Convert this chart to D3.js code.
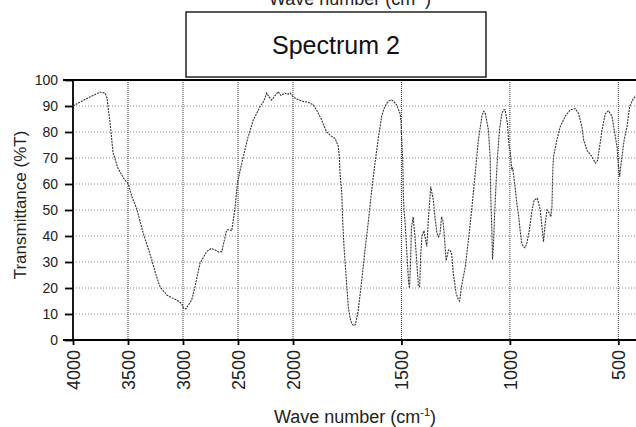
<!DOCTYPE html>
<html>
<head>
<meta charset="utf-8">
<script src="https://cdn.jsdelivr.net/npm/d3@7"></script>
<style>
  html, body { margin: 0; padding: 0; background: #fff; }
  svg { display: block; font-family: "Liberation Sans", Arial, sans-serif; }
  .grid-h { stroke: #8a8a8a; stroke-width: 1; stroke-dasharray: 1,2; }
  .grid-v { stroke: #333; stroke-width: 1; stroke-dasharray: 1,1; }
  .frame { stroke: #000; stroke-width: 1.8; }
  .tick-label { fill: #222; }
  .spectrum { fill: none; stroke: #333; stroke-width: 1.1; stroke-dasharray: 2,1; }
</style>
</head>
<body>
<div id="chart"></div>
<script>
// IR spectrum: wave number (cm-1) and transmittance (%T)
const wavenumber = [
  4000, 3936, 3845, 3755, 3709, 3690, 3677, 3664, 3636, 3591, 3536, 3497, 3464, 3421,
  3361, 3285, 3245, 3209, 3148, 3100, 3057, 3012, 2997, 2973, 2921, 2891, 2845, 2785,
  2745, 2709, 2673, 2648, 2627, 2603, 2582, 2557, 2543, 2527, 2506, 2482, 2452, 2409,
  2361, 2300, 2264, 2239, 2218, 2194, 2164, 2134, 2109, 2073, 2045, 2027, 2000,
  1986, 1952, 1931, 1906, 1885, 1868, 1845, 1825, 1806, 1791, 1786, 1783, 1775, 1771,
  1765, 1755, 1745, 1737, 1729, 1721, 1714, 1707, 1699, 1683, 1668, 1652, 1637, 1622,
  1606, 1591, 1580, 1568, 1557, 1545, 1534, 1522, 1506, 1502, 1499, 1494, 1491, 1488,
  1483, 1473, 1467, 1463, 1458, 1454, 1446, 1438, 1429, 1422, 1416, 1411, 1405, 1396,
  1383, 1376, 1365, 1358, 1353, 1345, 1337, 1330, 1322, 1315, 1309, 1304, 1294, 1283,
  1276, 1268, 1261, 1248, 1237, 1232, 1222, 1206, 1191, 1175, 1160, 1145, 1129, 1121,
  1114, 1099, 1091, 1088, 1083, 1080, 1075, 1070, 1063, 1057, 1048, 1037, 1029, 1022,
  1011, 1006, 1002, 999, 991, 987, 976, 968, 961, 953, 945, 938, 930, 922, 910, 898,
  888, 873, 860, 852, 845, 837, 829, 817, 811, 806, 802, 799, 783, 768, 745, 722, 699,
  683, 668, 660, 645, 621, 606, 596, 586, 575, 560, 545, 529, 519, 506, 499, 494, 490,
  483, 473, 460, 448, 430, 417, 400
];
const transmittance = [
  90, 91.5, 93.5, 95.3, 95, 93, 88, 84, 72, 66, 62, 60, 55, 50.5,
  41, 31, 25, 20.5, 17.3, 16.2, 15.4, 14, 12.3, 12, 15.4, 20.5, 29.6, 34,
  35.2, 34.6, 33.8, 34, 37.8, 42.3, 42.5, 42, 46, 51, 60, 65, 70.5, 78,
  84.6, 89.7, 92, 95, 93.5, 92.3, 94, 95.5, 94, 95, 94.5, 95, 93.6,
  92.8, 91.7, 91.5, 90.4, 87.5, 84.6, 80, 78.5, 77.5, 74.4, 70, 64, 56.4, 46,
  36, 24.3, 12.8, 8.5, 6.4, 5.5, 5.8, 8, 11.5, 23, 34.6, 46, 57.7, 68,
  78, 86, 89, 91, 92, 92.3, 91.7, 90.4, 87, 84, 78, 69, 55, 50,
  45, 30.8, 22, 20, 30, 43, 47.4, 40, 29.6, 21, 20.5, 33, 40, 42,
  36, 46, 59, 56, 53.8, 47, 41.5, 39.7, 41, 47.4, 46, 42, 30.5, 34.6,
  34.6, 33, 25.6, 18, 15.4, 15, 21, 28, 38.5, 51, 64, 77, 86, 88,
  87.5, 80.8, 70.5, 55, 42, 31, 38, 49, 61.5, 70.5, 80.8, 87, 88.5, 88.5,
  83.3, 77, 73, 73, 65.4, 66, 59, 52.6, 48.7, 42.3, 37.2, 35.9, 35.5, 37.2, 42.3, 50,
  53.8, 54.5, 50, 43.6, 37.8, 44.9, 50, 48.7, 47.4, 51.3, 65.4, 70.5, 77, 82, 86, 88.5, 89,
  87, 82, 77, 73, 70.5, 68, 69, 74.4, 80.8, 87, 88.2, 86, 80.8, 74.4, 66.7, 62.8, 66,
  70.5, 77, 82, 89.7, 93, 94, 95
];

const xTicks = [4000, 3500, 3000, 2500, 2000, 1500, 1000, 500];
const yTicks = [0, 10, 20, 30, 40, 50, 60, 70, 80, 90, 100];

const chartTitle = "Spectrum 2";
const xTitle = "Wave number (cm";
const yTitle = "Transmittance (%T)";

const width = 636;
const height = 427;
const plotLeft = 73, plotTop = 80, plotBottom = 340, plotRight = 636;

// the x axis doubles its scale below 2000 cm-1
const x = d3.scaleLinear()
  .domain([4000, 2000, 400])
  .range([plotLeft, 293, 640]);

const y = d3.scaleLinear()
  .domain([0, 100])
  .range([plotBottom, plotTop]);

const svg = d3.select("#chart")
  .append("svg")
  .attr("width", width)
  .attr("height", height);

// grid
svg.append("g")
  .selectAll("line")
  .data(yTicks.filter(d => d > 0 && d < 100))
  .join("line")
  .attr("class", "grid-h")
  .attr("x1", plotLeft)
  .attr("x2", plotRight)
  .attr("y1", d => y(d))
  .attr("y2", d => y(d));

svg.append("g")
  .selectAll("line")
  .data(xTicks.filter(d => d < 4000))
  .join("line")
  .attr("class", "grid-v")
  .attr("x1", d => x(d))
  .attr("x2", d => x(d))
  .attr("y1", plotTop)
  .attr("y2", plotBottom);

// axes
const yAxis = svg.append("g")
  .attr("transform", `translate(${plotLeft},0)`)
  .call(d3.axisLeft(y).tickValues(yTicks).tickSize(8).tickPadding(7));
yAxis.select(".domain").remove();
yAxis.selectAll(".tick line").attr("stroke", "#000").attr("stroke-width", 1.8);
yAxis.selectAll("text")
  .attr("class", "tick-label")
  .style("font-size", "14px")
  .style("font-family", "'Liberation Sans', Arial, sans-serif");

const xAxis = svg.append("g")
  .attr("transform", `translate(0,${plotBottom})`)
  .call(d3.axisBottom(x).tickValues(xTicks).tickSize(5).tickFormat(d3.format("d")));
xAxis.select(".domain").remove();
xAxis.selectAll(".tick line").attr("stroke", "#000").attr("stroke-width", 1.8);
xAxis.selectAll("text")
  .attr("class", "tick-label")
  .attr("transform", "rotate(-90)")
  .attr("text-anchor", "end")
  .attr("x", -10)
  .attr("y", 0)
  .attr("dy", "0.35em")
  .style("font-size", "18px")
  .style("font-family", "'Liberation Sans', Arial, sans-serif");

// frame lines
svg.append("line").attr("class", "frame")
  .attr("x1", plotLeft).attr("x2", plotLeft).attr("y1", plotTop).attr("y2", plotBottom);
svg.append("line").attr("class", "frame")
  .attr("x1", plotLeft - 10).attr("x2", plotRight).attr("y1", plotTop).attr("y2", plotTop);
svg.append("line").attr("class", "frame")
  .attr("x1", plotLeft - 10).attr("x2", plotRight).attr("y1", plotBottom).attr("y2", plotBottom);

// spectrum
const points = wavenumber.map((w, i) => [w, transmittance[i]]);
const line = d3.line()
  .x(d => x(d[0]))
  .y(d => y(d[1]));

svg.append("path")
  .datum(points)
  .attr("class", "spectrum")
  .attr("d", line);

// titles
function axisTitle(px, py, rotate) {
  return svg.append("text")
    .attr("transform", `translate(${px},${py})` + (rotate ? " rotate(-90)" : ""))
    .attr("text-anchor", "middle")
    .attr("fill", "#222")
    .style("font-size", "18px");
}

function waveTitle(px, py) {
  const t = axisTitle(px, py, false);
  t.append("tspan").text(xTitle);
  t.append("tspan").attr("font-size", "11px").attr("dy", -7).text("-1");
  t.append("tspan").attr("dy", 7).text(")");
}

waveTitle(355, 423);
waveTitle(350, 5);

axisTitle(26, 205, true)
  .style("font-size", "17px")
  .text(yTitle);

// title box
svg.append("rect")
  .attr("x", 186)
  .attr("y", 12)
  .attr("width", 300)
  .attr("height", 65)
  .attr("fill", "#fff")
  .attr("stroke", "#000")
  .attr("stroke-width", 1.3);

svg.append("text")
  .attr("x", 336)
  .attr("y", 54)
  .attr("text-anchor", "middle")
  .attr("fill", "#111")
  .attr("textLength", 128)
  .attr("lengthAdjust", "spacingAndGlyphs")
  .style("font-size", "26px")
  .text(chartTitle);
</script>
</body>
</html>
